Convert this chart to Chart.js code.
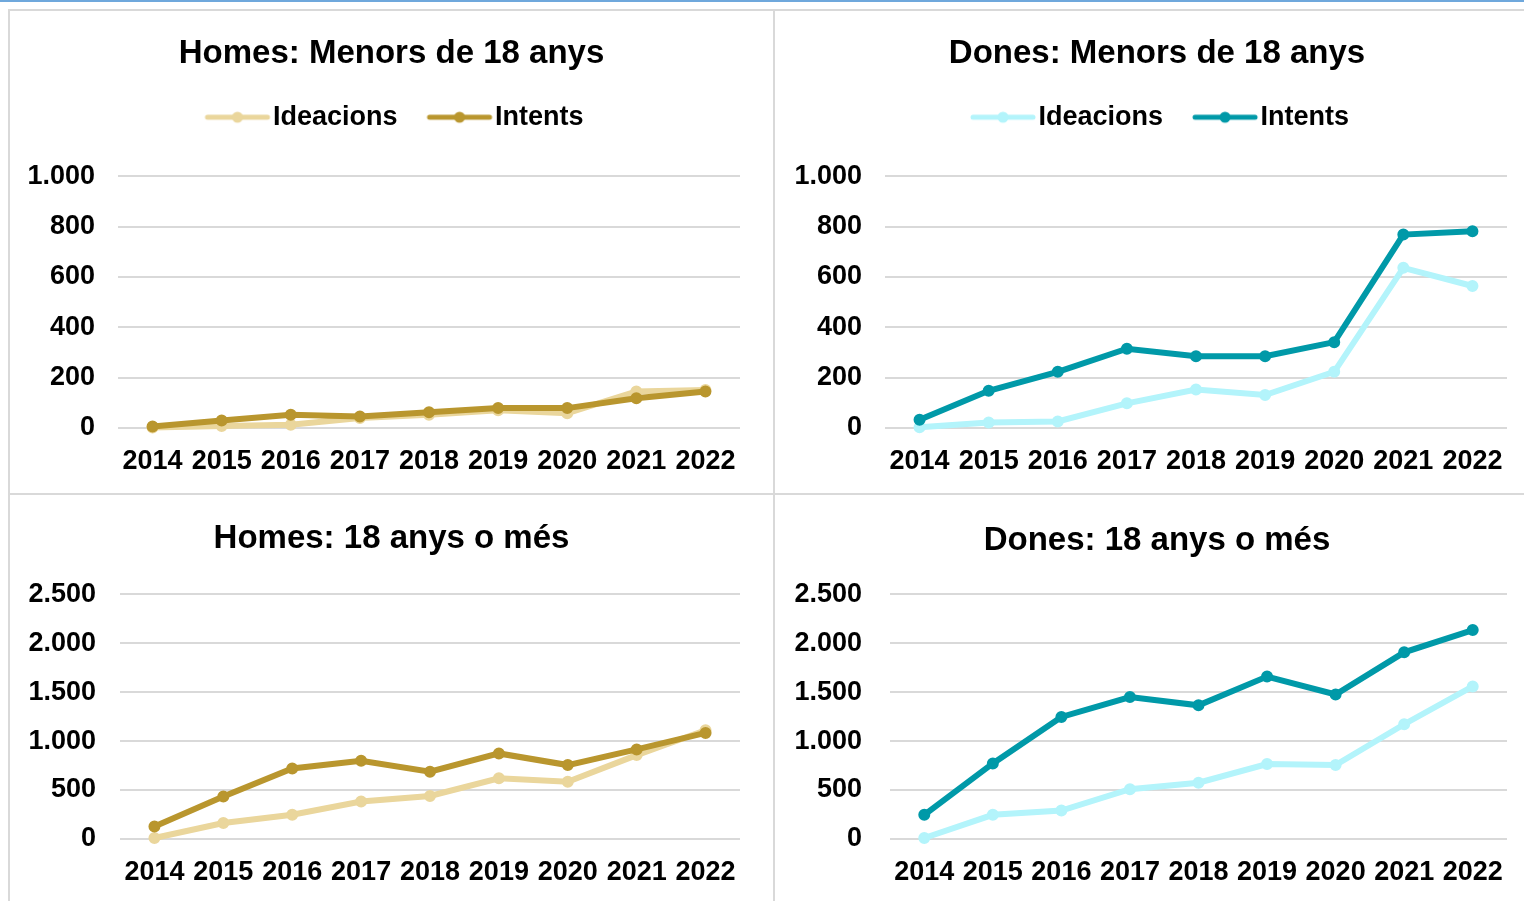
<!DOCTYPE html>
<html>
<head>
<meta charset="utf-8">
<script src="https://cdn.jsdelivr.net/npm/chart.js@4.4.1/dist/chart.umd.min.js"></script>
<style>
  html, body { margin: 0; padding: 0; background: #fff; width: 1524px; height: 901px; overflow: hidden; position: relative; }
  .topbar { position: absolute; left: 0; top: 0; width: 1524px; height: 2px; background: #6fa8dc; }
  .panel { position: absolute; box-sizing: border-box; border: 2px solid #d9d9d9; overflow: hidden; }
  .panel canvas { display: block; }
</style>
</head>
<body>
<div class="topbar"></div>
<div class="panel" style="left:8px;top:9px;width:767px;height:486px"><canvas id="c1" width="763" height="482"></canvas></div>
<div class="panel" style="left:773px;top:9px;width:800px;height:486px"><canvas id="c2" width="749" height="482"></canvas></div>
<div class="panel" style="left:8px;top:493px;width:767px;height:500px"><canvas id="c3" width="763" height="406"></canvas></div>
<div class="panel" style="left:773px;top:493px;width:800px;height:500px"><canvas id="c4" width="749" height="406"></canvas></div>
<script>
const years = ['2014', '2015', '2016', '2017', '2018', '2019', '2020', '2021', '2022'];
const seriesNames = ['Ideacions', 'Intents'];

// Homes: Menors de 18 anys
const homesMenorsIdeacions = [2, 8, 13, 40, 53, 70, 59, 145, 151];
const homesMenorsIntents = [6, 30, 53, 46, 63, 79, 79, 118, 145];
// Dones: Menors de 18 anys
const donesMenorsIdeacions = [3, 22, 26, 98, 153, 131, 223, 636, 564];
const donesMenorsIntents = [33, 148, 223, 315, 285, 285, 341, 768, 781];
// Homes: 18 anys o més
const homesAdultsIdeacions = [10, 163, 247, 382, 440, 620, 585, 857, 1111];
const homesAdultsIntents = [128, 433, 721, 799, 687, 874, 755, 915, 1083];
// Dones: 18 anys o més
const donesAdultsIdeacions = [10, 247, 291, 508, 575, 765, 755, 1172, 1558];
const donesAdultsIntents = [247, 772, 1246, 1449, 1365, 1659, 1476, 1906, 2134];

const homesColors = ['#ead69c', '#b9962e'];
const donesColors = ['#b3f4fb', '#0099a8'];

const FONT = "'Liberation Sans', Arial, sans-serif";

function thousands(v) {
  return String(v).replace(/\B(?=(\d{3})+(?!\d))/g, '.');
}

// legend marker: a short line with a dot, like the spreadsheet one
function makeMarker(color) {
  const c = document.createElement('canvas');
  c.width = 96;
  c.height = 16;
  const ctx = c.getContext('2d');
  ctx.strokeStyle = color;
  ctx.lineWidth = 5;
  ctx.lineCap = 'round';
  ctx.beginPath();
  ctx.moveTo(26, 8);
  ctx.lineTo(86, 8);
  ctx.stroke();
  ctx.fillStyle = color;
  ctx.beginPath();
  ctx.arc(56, 8, 5.5, 0, Math.PI * 2);
  ctx.fill();
  return c;
}

function makeChart(id, title, ideacions, intents, colors, yMax, yStep, lay) {
  const markers = colors.map(makeMarker);
  const ds = (label, data, color, order) => ({
    label,
    data,
    borderColor: color,
    backgroundColor: color,
    borderWidth: 6,
    pointRadius: 5,
    pointBorderWidth: 2,
    pointBackgroundColor: color,
    pointBorderColor: color,
    tension: 0,
    clip: false,
    order
  });

  return new Chart(document.getElementById(id), {
    type: 'line',
    data: {
      labels: years,
      datasets: [
        ds(seriesNames[0], ideacions, colors[0], 1),
        ds(seriesNames[1], intents, colors[1], 0)
      ]
    },
    options: {
      responsive: false,
      animation: false,
      layout: { padding: { left: lay.pl, right: 0, top: lay.pt, bottom: 0 } },
      plugins: {
        title: {
          display: true,
          text: title,
          color: '#000',
          font: { family: FONT, size: 33, weight: 'bold' },
          padding: { top: 0, bottom: lay.tb }
        },
        subtitle: {
          // spacer between legend and plot
          display: lay.legend,
          text: '',
          weight: 500,
          font: { size: 10, lineHeight: 1 },
          padding: { top: 0, bottom: lay.spacer || 0 }
        },
        legend: {
          display: lay.legend,
          labels: {
            color: '#000',
            font: { family: FONT, size: 27, weight: 'bold' },
            usePointStyle: true,
            pointStyleWidth: 60,
            padding: 24,
            sort: (a, b) => a.datasetIndex - b.datasetIndex,
            generateLabels: chart => {
              const items = Chart.defaults.plugins.legend.labels.generateLabels(chart);
              items.forEach(it => { it.pointStyle = markers[it.datasetIndex]; });
              return items;
            }
          }
        },
        tooltip: { enabled: false }
      },
      scales: {
        x: {
          offset: true,
          grid: { display: false, drawTicks: false },
          border: { display: false },
          ticks: {
            color: '#000',
            font: { family: FONT, size: 27, weight: 'bold' },
            padding: lay.xPad,
            maxRotation: 0,
            autoSkip: false
          },
          afterFit: s => { s.height = lay.xHeight; }
        },
        y: {
          min: 0,
          max: yMax,
          grid: { color: '#d9d9d9', lineWidth: 2, drawTicks: false },
          border: { display: false },
          ticks: {
            stepSize: yStep,
            color: '#000',
            font: { family: FONT, size: 27, weight: 'bold' },
            padding: lay.yPad,
            callback: v => thousands(v)
          },
          afterFit: s => { s.width = lay.yWidth; }
        },
        // empty right-hand margin so the title stays centred on the panel
        yRight: {
          position: 'right',
          grid: { display: false, drawTicks: false },
          border: { display: false },
          ticks: { display: false },
          afterFit: s => { s.width = lay.rightGap; }
        }
      }
    }
  });
}

makeChart('c1', 'Homes: Menors de 18 anys', homesMenorsIdeacions, homesMenorsIntents, homesColors, 1000, 200,
  { legend: true, pl: 0, pt: 23, tb: 6.1, spacer: 25.5, yWidth: 108, yPad: 23, rightGap: 33, xHeight: 65, xPad: 17 });
makeChart('c2', 'Dones: Menors de 18 anys', donesMenorsIdeacions, donesMenorsIntents, donesColors, 1000, 200,
  { legend: true, pl: 15, pt: 23, tb: 6.1, spacer: 25.5, yWidth: 95, yPad: 23, rightGap: 17, xHeight: 65, xPad: 17 });
makeChart('c3', 'Homes: 18 anys o més', homesAdultsIdeacions, homesAdultsIntents, homesColors, 2500, 500,
  { legend: false, pl: 0, pt: 24, tb: 35.6, yWidth: 110, yPad: 24, rightGap: 33, xHeight: 62, xPad: 17 });
makeChart('c4', 'Dones: 18 anys o més', donesAdultsIdeacions, donesAdultsIntents, donesColors, 2500, 500,
  { legend: false, pl: 15, pt: 26, tb: 33.6, yWidth: 100, yPad: 28, rightGap: 17, xHeight: 62, xPad: 17 });
</script>
</body>
</html>
